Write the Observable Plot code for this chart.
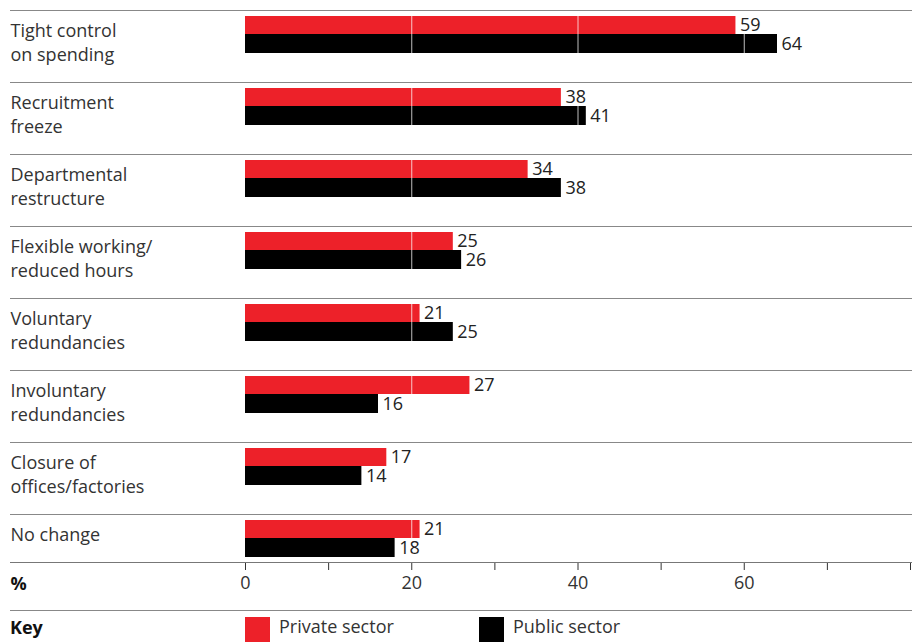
<!DOCTYPE html>
<html>
<head>
<meta charset="utf-8">
<script src="https://cdn.jsdelivr.net/npm/d3@7"></script>
<script src="https://cdn.jsdelivr.net/npm/@observablehq/plot@0.6"></script>
<style>
  html, body { margin: 0; padding: 0; background: #fff; }
  body { width: 912px; height: 644px; overflow: hidden; font-family: "Open Sans", "Noto Sans", sans-serif; }
  #key { position: relative; width: 912px; height: 44px; }
  #key .sep { position: absolute; left: 10px; right: 0; top: 10px; border-top: 1px solid #888; }
  #key .lbl { position: absolute; left: 10px; top: 15px; font-weight: bold; font-size: 18px; color: #111; line-height: 24px; }
  #key .sw { position: absolute; top: 17px; width: 25px; height: 25px; }
  #key .tx { position: absolute; top: 14px; font-size: 18px; color: #333; line-height: 24px; }
</style>
</head>
<body>
<div id="chart"></div>
<div id="key"></div>
<script>
const categories = ["Tight control on spending", "Recruitment freeze", "Departmental restructure", "Flexible working/ reduced hours", "Voluntary redundancies", "Involuntary redundancies", "Closure of offices/factories", "No change"];
const categoryLabels = ["Tight control\non spending", "Recruitment\nfreeze", "Departmental\nrestructure", "Flexible working/\nreduced hours", "Voluntary\nredundancies", "Involuntary\nredundancies", "Closure of\noffices/factories", "No change"];
const privateSector = [59, 38, 34, 25, 21, 27, 17, 21];
const publicSector = [64, 41, 38, 26, 25, 16, 14, 18];
const seriesNames = ["Private sector", "Public sector"];
const seriesColors = ["#ed2129", "#000000"];
const xTicks = [0, 10, 20, 30, 40, 50, 60, 70, 80];
const xLabelTicks = [0, 20, 40, 60];
const gridValues = [20, 40, 60];

const priv = categories.map((c, i) => ({category: c, label: categoryLabels[i], value: privateSector[i]}));
const pub = categories.map((c, i) => ({category: c, label: categoryLabels[i], value: publicSector[i]}));

const font = "'Open Sans', 'Noto Sans', sans-serif";

const chart = Plot.plot({
  width: 912,
  height: 600,
  marginTop: 10,
  marginBottom: 38,
  marginLeft: 10,
  marginRight: 0,
  style: {fontFamily: font, fontSize: "18px", color: "#333", background: "#fff"},
  x: {domain: [0, 80], range: [245, 910], ticks: xTicks, tickSize: 8, tickPadding: 6,
      tickFormat: d => xLabelTicks.includes(d) ? String(d) : "", label: null},
  y: {domain: categories, range: [10, 586], padding: 0, axis: null},
  marks: [
    Plot.barX(priv, {x: "value", y: "category", fill: seriesColors[0], insetTop: 6, insetBottom: 48}),
    Plot.barX(pub, {x: "value", y: "category", fill: seriesColors[1], insetTop: 24, insetBottom: 29}),
    Plot.ruleX(gridValues, {stroke: "#fff", strokeOpacity: 0.75, strokeWidth: 1}),
    Plot.ruleY(categories, {y: d => d, stroke: "#888", strokeWidth: 1, dy: -36}),
    Plot.ruleY([categories[categories.length - 1]], {y: d => d, stroke: "#777", strokeWidth: 1, dy: 12}),
    Plot.text(priv, {y: "category", text: "label", frameAnchor: "left", textAnchor: "start", lineAnchor: "top", lineHeight: 1.35, dy: -27, fill: "#333", fontSize: 18}),
    Plot.text(priv, {x: "value", y: "category", text: d => String(d.value), textAnchor: "start", dx: 4, dy: -21, fill: "#222", fontSize: 18}),
    Plot.text(pub, {x: "value", y: "category", text: d => String(d.value), textAnchor: "start", dx: 4, dy: -2, fill: "#222", fontSize: 18}),
    Plot.text(["%"], {frameAnchor: "bottom-left", text: d => d, textAnchor: "start", dy: 27, fontWeight: "bold", fill: "#111", fontSize: 18})
  ]
});
document.getElementById("chart").appendChild(chart);

const key = document.getElementById("key");
key.innerHTML = '<div class="sep"></div><div class="lbl">Key</div>';
const swX = [245, 479];
seriesNames.forEach((name, i) => {
  const sw = document.createElement("div");
  sw.className = "sw"; sw.style.left = swX[i] + "px"; sw.style.background = seriesColors[i];
  const tx = document.createElement("div");
  tx.className = "tx"; tx.style.left = (swX[i] + 34) + "px"; tx.textContent = name;
  key.appendChild(sw); key.appendChild(tx);
});
</script>
</body>
</html>
